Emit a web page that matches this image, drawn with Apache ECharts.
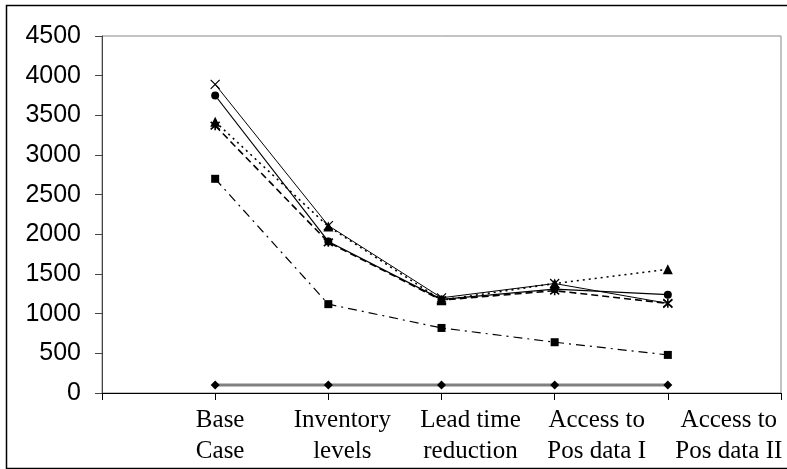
<!DOCTYPE html>
<html>
<head>
<meta charset="utf-8">
<script src="https://cdn.jsdelivr.net/npm/echarts@6/dist/echarts.min.js"></script>
<style>
  html, body { margin: 0; padding: 0; background: #fff; }
  #chart { width: 787px; height: 469px; }
</style>
</head>
<body>
<div id="chart"></div>
<script>
// Category slots: an empty slot at each end so the points sit on the inner ticks
const categories = ['', 'Base\nCase', 'Inventory\nlevels', 'Lead time\nreduction', 'Access to\nPos data I', 'Access to\nPos data II', ''];

// Series values (one per category slot)
const crossSeries    = [null, 3890, 2110, 1200, 1380, 1130, null];
const circleSeries   = [null, 3750, 1910, 1180, 1310, 1240, null];
const triangleSeries = [null, 3420, 2100, 1170, 1380, 1560, null];
const starSeries     = [null, 3370, 1900, 1170, 1290, 1130, null];
const squareSeries   = [null, 2700, 1120, 820, 640, 480, null];
const diamondSeries  = [null, 100, 100, 100, 100, 100, null];

// Y axis ticks
const yTicks = [0, 500, 1000, 1500, 2000, 2500, 3000, 3500, 4000, 4500];

// Horizontal nudges for the category labels (px)
const labelShift = [0, 5, 14, 29, 42, 61, 0];

const serif = "'Liberation Serif', 'Times New Roman', serif";
const sans = "'Liberation Sans', Arial, sans-serif";

const rich = {};
labelShift.forEach((s, i) => {
  rich['s' + i] = {
    fontFamily: serif, fontSize: 25, color: '#000', lineHeight: 31,
    padding: [0, 0, 0, s * 2]
  };
});

const crossPath = 'path://M0,0L10,10M10,0L0,10';
const starPath = 'path://M0,0L10,10M10,0L0,10M5,-1L5,11';

function lineSeries(data, symbol, size, lineStyle, itemStyle) {
  return {
    type: 'line', data: data, symbol: symbol, symbolSize: size,
    showSymbol: true, connectNulls: false, animation: false,
    lineStyle: lineStyle, itemStyle: itemStyle, z: 3
  };
}

const chart = echarts.init(document.getElementById('chart'), null, { renderer: 'canvas' });
chart.setOption({
  backgroundColor: '#fff',
  animation: false,
  grid: {
    left: 102, right: 6, top: 36, bottom: 76,
    show: true, borderColor: '#888', borderWidth: 1
  },
  graphic: [{
    type: 'rect', left: 4, top: 3, z: 100,
    shape: { width: 800, height: 463 },
    style: { fill: 'none', stroke: '#000', lineWidth: 1.5 }
  }],
  xAxis: {
    type: 'category', data: categories, boundaryGap: false,
    axisLine: { lineStyle: { color: '#000', width: 1 } },
    axisTick: { show: true, length: 7, alignWithLabel: true, interval: 0, lineStyle: { color: '#000' } },
    axisLabel: {
      interval: 0, margin: 12, color: '#000',
      fontFamily: serif, fontSize: 25,
      formatter: (value, index) => value.split('\n').map(l => '{s' + index + '|' + l + '}').join('\n'),
      rich: rich
    },
    splitLine: { show: false }
  },
  yAxis: {
    type: 'value', min: yTicks[0], max: yTicks[yTicks.length - 1], interval: 500,
    axisLine: { show: true, lineStyle: { color: '#444', width: 1 } },
    axisTick: { show: true, length: 7, lineStyle: { color: '#444' } },
    axisLabel: {
      color: '#000', fontFamily: sans, fontSize: 25, margin: 21,
      formatter: v => String(v)
    },
    splitLine: { show: false }
  },
  series: [
    lineSeries(diamondSeries, 'diamond', 9,
      { color: '#808080', width: 3 }, { color: '#000' }),
    lineSeries(squareSeries, 'rect', 8,
      { color: '#000', width: 1.2, type: [9, 5, 2, 5] }, { color: '#000' }),
    lineSeries(starSeries, starPath, 9,
      { color: '#000', width: 1.6, type: [7, 4] }, { color: 'none', borderColor: '#000', borderWidth: 1.6 }),
    lineSeries(triangleSeries, 'triangle', 10,
      { color: '#000', width: 1.6, type: [2, 4] }, { color: '#000' }),
    lineSeries(circleSeries, 'circle', 8,
      { color: '#000', width: 1.2 }, { color: '#000' }),
    lineSeries(crossSeries, crossPath, 9,
      { color: '#000', width: 1 }, { color: 'none', borderColor: '#000', borderWidth: 1.2 })
  ]
});
</script>
</body>
</html>
